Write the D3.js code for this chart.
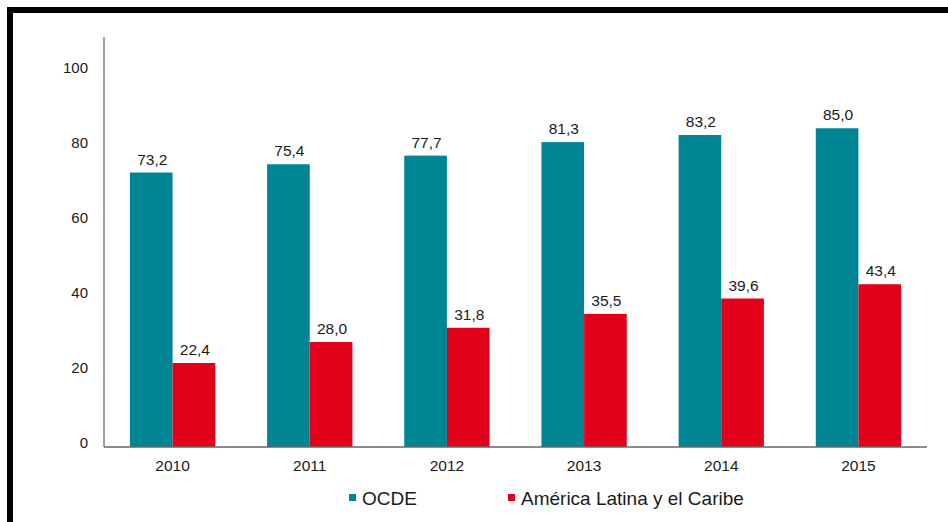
<!DOCTYPE html>
<html>
<head>
<meta charset="utf-8">
<script src="https://cdn.jsdelivr.net/npm/d3@7/dist/d3.min.js"></script>
<style>
  html, body { margin: 0; padding: 0; background: #fff; }
  svg { display: block; }
  text { font-family: "Liberation Sans", Arial, Helvetica, sans-serif; fill: #1a1a1a; }
</style>
</head>
<body>
<svg id="chart" width="948" height="522"></svg>
<script>
// Years on the category axis
const years = ["2010", "2011", "2012", "2013", "2014", "2015"];
// Series values
const ocde = [73.2, 75.4, 77.7, 81.3, 83.2, 85.0];
const alc = [22.4, 28.0, 31.8, 35.5, 39.6, 43.4];
// Series names and colours
const seriesNames = ["OCDE", "América Latina y el Caribe"];
const seriesColors = ["#008594", "#e2001a"];
// Y-axis tick values
const yTicks = [0, 20, 40, 60, 80, 100];

const svg = d3.select("#chart");

// Black frame round the chart
svg.append("rect")
  .attr("x", 10).attr("y", 10)
  .attr("width", 1200).attr("height", 1200)
  .attr("fill", "none")
  .attr("stroke", "#000")
  .attr("stroke-width", 6);

const plot = { left: 104, right: 927, top: 37, bottom: 447 };

const x0 = d3.scaleBand()
  .domain(years)
  .range([plot.left, plot.right])
  .paddingInner(0.378)
  .paddingOuter(0.189);

const x1 = d3.scaleBand()
  .domain(seriesNames)
  .range([0, x0.bandwidth()]);

const y = d3.scaleLinear()
  .domain([0, 100])
  .range([plot.bottom, 72]);

const rows = years.map((yr, i) => ({ year: yr, values: [ocde[i], alc[i]] }));

// Bars
const groups = svg.append("g").selectAll("g")
  .data(rows)
  .join("g")
  .attr("transform", d => `translate(${x0(d.year)},0)`);

groups.selectAll("rect")
  .data(d => d.values.map((v, k) => ({ v, k })))
  .join("rect")
  .attr("x", d => x1(seriesNames[d.k]))
  .attr("y", d => y(d.v))
  .attr("width", x1.bandwidth())
  .attr("height", d => y(0) - y(d.v))
  .attr("fill", d => seriesColors[d.k]);

// Value labels
const fmt = v => d3.format(".1f")(v).replace(".", ",");
groups.selectAll("text")
  .data(d => d.values.map((v, k) => ({ v, k })))
  .join("text")
  .attr("x", d => x1(seriesNames[d.k]) + x1.bandwidth() / 2 + 1)
  .attr("y", d => y(d.v) - 8)
  .attr("text-anchor", "middle")
  .style("font-size", "15.5px")
  .text(d => fmt(d.v));

// Y axis
const yAxis = d3.axisLeft(y).tickValues(yTicks).tickSize(0).tickPadding(16);
const gy = svg.append("g")
  .attr("transform", `translate(${plot.left},0)`)
  .call(yAxis);
gy.select(".domain").remove();
gy.selectAll(".tick text")
  .attr("dy", "-0.0em")
  .style("font-size", "15px")
  .style("fill", "#1a1a1a")
  .attr("font-family", null);
svg.append("line")
  .attr("x1", plot.left).attr("x2", plot.left)
  .attr("y1", plot.top).attr("y2", plot.bottom)
  .attr("stroke", "#7f7f7f").attr("stroke-width", 1.5);

// X axis
const xAxis = d3.axisBottom(x0).tickSize(0).tickPadding(13);
const gx = svg.append("g")
  .attr("transform", `translate(0,${plot.bottom})`)
  .call(xAxis);
gx.select(".domain").remove();
gx.selectAll(".tick text")
  .style("font-size", "15.5px")
  .style("fill", "#1a1a1a")
  .attr("font-family", null);
svg.append("line")
  .attr("x1", plot.left).attr("x2", plot.right)
  .attr("y1", plot.bottom).attr("y2", plot.bottom)
  .attr("stroke", "#666").attr("stroke-width", 1.5);

// Legend
const legendX = [349, 508];
const legend = svg.append("g").selectAll("g")
  .data(seriesNames)
  .join("g")
  .attr("transform", (d, i) => `translate(${legendX[i]},494)`);
legend.append("rect")
  .attr("width", 7).attr("height", 7)
  .attr("fill", (d, i) => seriesColors[i]);
legend.append("text")
  .attr("x", 13).attr("y", 10.5)
  .style("font-size", "19px")
  .text(d => d);
</script>
</body>
</html>
